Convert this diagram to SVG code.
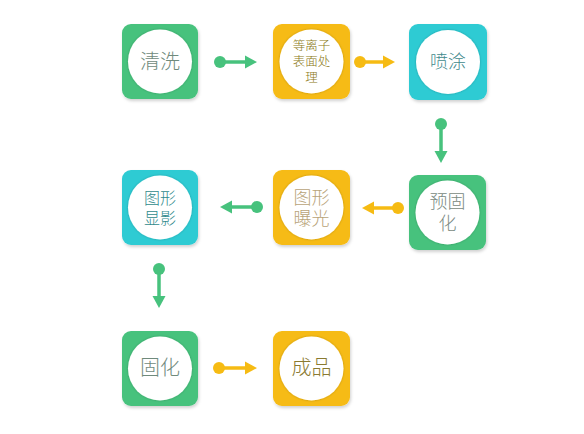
<svg xmlns="http://www.w3.org/2000/svg" width="584" height="434" viewBox="0 0 584 434">
<defs>
<filter id="sh" x="-20%" y="-20%" width="140%" height="140%">
<feDropShadow dx="1" dy="2" stdDeviation="1.5" flood-color="#000" flood-opacity="0.18"/>
</filter>
<filter id="ish" x="-20%" y="-20%" width="140%" height="140%">
<feDropShadow dx="0" dy="0" stdDeviation="1.2" flood-color="#000" flood-opacity="0.25"/>
</filter>
</defs>
<style>
.g{fill:#47c27d}
.y{fill:#f6bb13}
.c{fill:#2ecbd3}
.box{filter:url(#sh)}
.circ{fill:#fff;filter:url(#ish)}
text{font-family:"Liberation Sans","Noto Sans CJK SC",sans-serif;font-weight:300;text-anchor:middle;dominant-baseline:central}
.lg{stroke:#47c27d;stroke-width:3.5;fill:none}
.ly{stroke:#f6bb13;stroke-width:3.5;fill:none}
.dg{fill:#47c27d}
.dy{fill:#f6bb13}
</style>
<rect width="584" height="434" fill="#fff"/>
<g id="n1">
<rect class="box g" x="122" y="24" width="76" height="75" rx="9"/>
<circle class="circ" cx="160" cy="61.5" r="32"/>
<text x="160" y="62" font-size="20" fill="#6f8a7c">清洗</text>
</g>
<g id="n2">
<rect class="box y" x="273" y="24" width="77" height="75" rx="9"/>
<circle class="circ" cx="311.5" cy="61.5" r="32"/>
<text x="311.5" y="46" font-size="12.5" fill="#8a7812">等离子<tspan x="311.5" dy="16">表面处</tspan><tspan x="311.5" dy="16">理</tspan></text>
</g>
<g id="n3">
<rect class="box c" x="409" y="24" width="78" height="76" rx="9"/>
<circle class="circ" cx="448" cy="62" r="32"/>
<text x="448" y="62" font-size="18" fill="#3f8a8c">喷涂</text>
</g>
<g id="n4">
<rect class="box g" x="409" y="175" width="77" height="75" rx="9"/>
<circle class="circ" cx="447.5" cy="212.5" r="32"/>
<text x="447.5" y="201.5" font-size="18" fill="#7a8a82">预固<tspan x="447.5" dy="22">化</tspan></text>
</g>
<g id="n5">
<rect class="box y" x="273" y="170" width="77" height="75" rx="9"/>
<circle class="circ" cx="311.5" cy="207.5" r="32"/>
<text x="311.5" y="198" font-size="18" fill="#b8a378">图形<tspan x="311.5" dy="20.5">曝光</tspan></text>
</g>
<g id="n6">
<rect class="box c" x="122" y="170" width="76" height="75" rx="9"/>
<circle class="circ" cx="160" cy="207.5" r="32"/>
<text x="160" y="198.5" font-size="16" fill="#2f8a8c">图形<tspan x="160" dy="19">显影</tspan></text>
</g>
<g id="n7">
<rect class="box g" x="122" y="331" width="76" height="75" rx="9"/>
<circle class="circ" cx="160" cy="368.5" r="32"/>
<text x="160" y="368" font-size="20" fill="#6f8a7c">固化</text>
</g>
<g id="n8">
<rect class="box y" x="273" y="331" width="77" height="75" rx="9"/>
<circle class="circ" cx="311.5" cy="368.5" r="32"/>
<text x="311.5" y="368" font-size="20" fill="#8a7a30">成品</text>
</g>
<g id="connectors">
<circle class="dg" cx="220" cy="62" r="6"/>
<line class="lg" x1="220" y1="62" x2="246" y2="62"/>
<path class="dg" d="M245,55.5 L257,62 L245,68.5 Z"/>
<circle class="dy" cx="360" cy="62" r="6"/>
<line class="ly" x1="360" y1="62" x2="384" y2="62"/>
<path class="dy" d="M383,55.5 L395,62 L383,68.5 Z"/>
<circle class="dg" cx="441" cy="124" r="6"/>
<line class="lg" x1="441" y1="124" x2="441" y2="152"/>
<path class="dg" d="M434.5,151 L441,163 L447.5,151 Z"/>
<circle class="dy" cx="398" cy="208" r="6"/>
<line class="ly" x1="398" y1="208" x2="373" y2="208"/>
<path class="dy" d="M374,201.5 L362,208 L374,214.5 Z"/>
<circle class="dg" cx="257" cy="207" r="6"/>
<line class="lg" x1="257" y1="207" x2="231" y2="207"/>
<path class="dg" d="M232,200.5 L220,207 L232,213.5 Z"/>
<circle class="dg" cx="159" cy="269" r="6"/>
<line class="lg" x1="159" y1="269" x2="159" y2="297"/>
<path class="dg" d="M152.5,296 L159,308 L165.5,296 Z"/>
<circle class="dy" cx="219" cy="368" r="6"/>
<line class="ly" x1="219" y1="368" x2="246" y2="368"/>
<path class="dy" d="M245,361.5 L257,368 L245,374.5 Z"/>
</g>
</svg>
